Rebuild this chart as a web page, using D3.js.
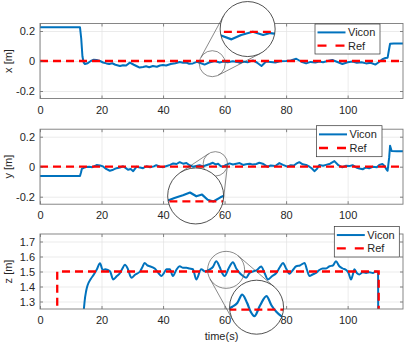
<!DOCTYPE html>
<html><head><meta charset="utf-8">
<script src="https://cdn.jsdelivr.net/npm/d3@7"></script>
<style>body{margin:0;background:#fff}text{font-family:"Liberation Sans",Arial,sans-serif;fill:#262626}</style>
</head><body><svg id="c" width="407" height="344"></svg>
<script>
// ---------- data ----------
const xTicks = [0, 20, 40, 60, 80, 100];
const xTickLabels = ["0", "20", "40", "60", "80", "100"];
const xyTicks = [-0.2, 0, 0.2];
const xyTickLabels = ["-0.2", "0", "0.2"];
const zTicks = [1.3, 1.4, 1.5, 1.6, 1.7];
const zTickLabels = ["1.3", "1.4", "1.5", "1.6", "1.7"];
const seriesNames = ["Vicon", "Ref"];

const xT = [0,13,13.4,13.8,14.2,14.6,15.5,16.5,17.5,18.4,19.5,20.5,21.6,22.5,23.5,24.5,26,27,28,29.2,30.5,31.5,32.4,33.5,34.5,35.5,36.7,38,39,40,41,42.5,44,45.4,46.5,47.5,48.5,49.7,51,51.9,53.5,55,56.8,58.4,59.5,61,62.7,64,65,66,67.5,69.2,70.5,72,73.5,75,76.5,78,80,81.5,83.3,85,86.5,88,89.5,90.8,92,93.5,95,96.5,98.3,100,101.6,103,104.5,106,107.5,109,110,111.3,112.3,113,113.4,113.8,115,118];
const xV = [0.225,0.225,0.15,0.03,-0.01,-0.02,-0.015,0,0.008,0.007,0,-0.01,-0.016,-0.02,-0.015,-0.025,-0.033,-0.028,-0.03,-0.011,-0.025,-0.035,-0.044,-0.04,-0.035,-0.042,-0.033,-0.038,-0.03,-0.027,-0.03,-0.02,-0.015,-0.007,-0.012,-0.01,-0.018,-0.016,-0.006,-0.012,-0.024,-0.01,0,-0.01,-0.004,-0.008,-0.002,-0.006,-0.012,-0.004,-0.008,0.004,-0.01,-0.033,-0.004,-0.006,-0.01,-0.002,0,0.004,0.015,-0.005,-0.016,-0.006,-0.01,-0.004,-0.008,0,0.007,-0.005,-0.02,-0.008,-0.004,-0.012,-0.008,-0.016,-0.012,-0.024,-0.01,0.012,0.02,0.022,0.07,0.115,0.117,0.117];
const xRefT = [0, 118];
const xRefV = [0, 0];

const yT = [0,13,13.3,13.6,14.2,15,16,17,18.4,19.5,20.5,21.5,22.7,23.8,24.9,26,27,27.8,28.6,29.5,30.3,31.4,32.5,33.5,34.6,35.8,37,37.8,39,40,41.2,42.3,43.3,44.4,45.4,46.5,47.6,48.6,49.7,50.8,51.9,53,54,55.2,56.2,57.1,57.9,58.7,59.5,60.5,61.6,62.7,63.8,64.9,66,67,68.2,69.2,70.3,71.3,72.4,73.9,75,76.5,77.8,79,80.4,81.5,82.5,83.3,84.3,85.4,86.5,87.6,88.4,89.2,90,90.8,92,93,94.3,95.7,97,98.3,99.5,100.5,101.6,102.8,103.8,104.9,106,107,108.2,109.5,110.3,111.3,112,112.6,113,113.5,113.8,114.3,116,118];
const yV = [-0.062,-0.062,-0.04,-0.015,-0.008,-0.002,0,-0.003,0.011,0.008,0.002,-0.015,-0.027,-0.02,-0.01,-0.005,0.003,-0.008,-0.02,-0.015,-0.03,0,-0.006,-0.01,0.003,-0.004,0.002,0.01,0,-0.003,0.005,0.012,0.022,0.018,0.03,0.02,0.025,0.01,0,0.005,0.01,0.002,0.01,0.018,0.026,0.015,0.02,0.005,0,0.012,0.022,0.015,0.02,0.024,0.012,0.016,0.02,0.014,0.018,0.026,0.02,0,0.008,0.005,0.024,0.012,0,0.01,0.008,0.02,0.03,0.016,0.012,0,-0.012,-0.03,-0.016,0.012,0.006,0.012,0.02,0.037,0.01,-0.004,0.006,0.004,0.01,-0.005,-0.012,-0.017,-0.005,-0.01,0,-0.004,0.012,0.018,0.005,-0.018,-0.027,0.06,0.14,0.105,0.103,0.103];
const yRefT = [0, 118];
const yRefV = [0, 0];

const zT = [0,13,14,14.5,15,15.5,16.5,17.5,18.5,19.5,20.4,21.2,22,22.8,23.8,25,26,26.8,27.6,28.5,29.7,31,32.5,33.3,34,35,35.7,37.3,38.5,39.5,40.3,41.1,42.2,43.2,44.3,45.4,46.5,47.6,48.6,49.7,50.8,52.4,53.7,55.1,56.2,57.3,58.4,59.2,60,61.3,62.7,63.8,64.9,66,67,68.1,69.2,70.5,71.9,73,74.1,75.5,76.8,78,79,80,81.1,82.2,83.3,84.5,86,86.8,87.6,88.6,89.7,90.8,91.9,93,94.1,95.2,96.2,97.3,98.4,99.5,100.3,101.1,101.7,102.2,103,103.8,104.9,106,107.1,108.2,109.2,109.9,110.1];
const zV = [0,0,1.15,1.3,1.37,1.41,1.45,1.48,1.515,1.555,1.51,1.515,1.51,1.5,1.447,1.47,1.49,1.52,1.545,1.52,1.458,1.48,1.5,1.53,1.557,1.54,1.535,1.52,1.49,1.47,1.49,1.515,1.515,1.47,1.51,1.535,1.525,1.525,1.52,1.515,1.447,1.515,1.5,1.513,1.53,1.568,1.53,1.49,1.47,1.52,1.562,1.52,1.49,1.47,1.458,1.49,1.5,1.51,1.534,1.49,1.447,1.47,1.49,1.53,1.557,1.52,1.485,1.51,1.535,1.54,1.557,1.51,1.47,1.48,1.49,1.51,1.52,1.52,1.535,1.54,1.568,1.535,1.52,1.51,1.49,1.447,1.48,1.515,1.49,1.48,1.495,1.49,1.495,1.49,1.5,1.497,0];
const zRefT = [0, 5.6, 5.6, 110.1, 110.1];
const zRefV = [0, 0, 1.5, 1.5, 0];

// ---------- layout ----------
const svg = d3.select("#c");
const L = 40, R = 403, H = 75;
const x = d3.scaleLinear().domain([0, 118]).range([L, R]);
const BLUE = "#0072BD", RED = "#FF0000";

const panels = [
  {label: "x [m]", t: xT, v: xV, rt: xRefT, rv: xRefV, dom: [-0.25, 0.25], ticks: xyTicks, labels: xyTickLabels, top: 23.5,
   curve: d3.curveLinear, leg: [315, 24, 65, 30],
   inset: {s: [56, -0.018], sr: 13, b: [67.5, 0.213], br: 27.5, c: [56, 0.0087], mag: 2.1}},
  {label: "y [m]", t: yT, v: yV, rt: yRefT, rv: yRefV, dom: [-0.25, 0.25], ticks: xyTicks, labels: xyTickLabels, top: 129.2,
   curve: d3.curveLinear, leg: [316.5, 125.7, 65.5, 31],
   inset: {s: [57, 0.019], sr: 12.2, b: [50.6, -0.195], br: 28, c: [57, 0.016], mag: 2.3}},
  {label: "z [m]", t: zT, v: zV, rt: zRefT, rv: zRefV, dom: [1.25, 1.75], ticks: zTicks, labels: zTickLabels, top: 234,
   curve: d3.curveMonotoneX, leg: [334.3, 226.5, 65, 30.5],
   inset: {s: [60.5, 1.511], sr: 18.5, b: [70.4, 1.262], br: 27, c: [60.5, 1.511], mag: 1.46}}
];

panels.forEach((p, i) => {
  const top = p.top, bot = top + H;
  const y = d3.scaleLinear().domain(p.dom).range([bot, top]);
  const g = svg.append("g");

  // grid
  g.append("g").attr("transform", `translate(0,${bot})`)
    .call(d3.axisBottom(x).tickValues(xTicks).tickSize(-H).tickFormat(""))
    .call(a => { a.select(".domain").remove(); a.selectAll("line").attr("stroke", "#e3e3e3").attr("stroke-width", 0.7); });
  g.append("g").attr("transform", `translate(${L},0)`)
    .call(d3.axisLeft(y).tickValues(p.ticks).tickSize(-(R - L)).tickFormat(""))
    .call(a => { a.select(".domain").remove(); a.selectAll("line").attr("stroke", "#e3e3e3").attr("stroke-width", 0.7); });

  // clip
  const cid = "clip" + i;
  svg.append("clipPath").attr("id", cid).append("rect").attr("x", L).attr("y", top).attr("width", R - L).attr("height", H);
  const line = d3.line().x(d => x(d[0])).y(d => y(d[1]));
  const lineB = d3.line().x(d => x(d[0])).y(d => y(d[1])).curve(p.curve);
  const pg = g.append("g").attr("clip-path", `url(#${cid})`);
  pg.append("path").attr("d", lineB(d3.zip(p.t, p.v))).attr("fill", "none").attr("stroke", BLUE).attr("stroke-width", 2).attr("stroke-linejoin", "round");
  pg.append("path").attr("d", line(d3.zip(p.rt, p.rv))).attr("fill", "none").attr("stroke", RED).attr("stroke-width", 2.3).attr("stroke-dasharray", "8,5");

  // axes with ticks
  const tickStyle = a => { a.select(".domain").remove(); a.selectAll("line").attr("stroke", "#555").attr("stroke-width", 0.7);
    a.selectAll("text").attr("font-size", 11).attr("fill", "#262626").style("font-family", '"Liberation Sans",Arial,sans-serif'); };
  g.append("g").attr("transform", `translate(0,${bot})`)
    .call(d3.axisBottom(x).tickValues(xTicks).tickSizeInner(-3).tickSizeOuter(0).tickPadding(7.5).tickFormat((d, k) => xTickLabels[k]))
    .call(tickStyle);
  g.append("g").attr("transform", `translate(0,${top})`)
    .call(d3.axisTop(x).tickValues(xTicks).tickSizeInner(-3).tickSizeOuter(0).tickFormat(""))
    .call(tickStyle);
  g.append("g").attr("transform", `translate(${L},0)`)
    .call(d3.axisLeft(y).tickValues(p.ticks).tickSizeInner(-3).tickSizeOuter(0).tickPadding(5).tickFormat((d, k) => p.labels[k]))
    .call(tickStyle);
  g.append("g").attr("transform", `translate(${R},0)`)
    .call(d3.axisRight(y).tickValues(p.ticks).tickSizeInner(-3).tickSizeOuter(0).tickFormat(""))
    .call(tickStyle);
  g.append("rect").attr("x", L).attr("y", top).attr("width", R - L).attr("height", H)
    .attr("fill", "none").attr("stroke", "#7a7a7a").attr("stroke-width", 0.9);

  // y label
  g.append("text").attr("transform", `translate(11.5,${(top + bot) / 2}) rotate(-90)`)
    .attr("text-anchor", "middle").attr("font-size", 11).text(p.label);

  // inset magnifier
  const s = p.inset;
  const c1 = [x(s.s[0]), y(s.s[1])], c2 = [x(s.b[0]), y(s.b[1])];
  const dx = c2[0] - c1[0], dy = c2[1] - c1[1], D = Math.hypot(dx, dy);
  const base = Math.atan2(dy, dx), alpha = Math.acos((s.br - s.sr) / D);
  [base + alpha, base - alpha].forEach(an => {
    const n = [Math.cos(an), Math.sin(an)];
    g.append("line").attr("x1", c1[0] - s.sr * n[0]).attr("y1", c1[1] - s.sr * n[1])
      .attr("x2", c2[0] - s.br * n[0]).attr("y2", c2[1] - s.br * n[1])
      .attr("stroke", "#3a3a3a").attr("stroke-width", 0.6);
  });
  g.append("circle").attr("cx", c1[0]).attr("cy", c1[1]).attr("r", s.sr)
    .attr("fill", "none").attr("stroke", "#5a5a5a").attr("stroke-width", 0.7);
  const iid = "iclip" + i;
  svg.append("clipPath").attr("id", iid).append("circle").attr("cx", c2[0]).attr("cy", c2[1]).attr("r", s.br);
  g.append("circle").attr("cx", c2[0]).attr("cy", c2[1]).attr("r", s.br).attr("fill", "#fff");
  const xi = d3.scaleLinear().domain(x.domain()).range(x.range().map(r => c2[0] + (r - x(s.c[0])) * s.mag));
  const yi = d3.scaleLinear().domain(y.domain()).range(y.range().map(r => c2[1] + (r - y(s.c[1])) * s.mag));
  const li = d3.line().x(d => xi(d[0])).y(d => yi(d[1]));
  const liB = d3.line().x(d => xi(d[0])).y(d => yi(d[1])).curve(p.curve);
  const ig = g.append("g").attr("clip-path", `url(#${iid})`);
  ig.append("path").attr("d", liB(d3.zip(p.t, p.v))).attr("fill", "none").attr("stroke", BLUE).attr("stroke-width", 2.2).attr("stroke-linejoin", "round");
  ig.append("path").attr("d", li(d3.zip(p.rt, p.rv))).attr("fill", "none").attr("stroke", RED).attr("stroke-width", 2.3).attr("stroke-dasharray", "8,5");
  g.append("circle").attr("cx", c2[0]).attr("cy", c2[1]).attr("r", s.br)
    .attr("fill", "none").attr("stroke", "#262626").attr("stroke-width", 0.8);

  // legend
  const [lx, ly, lw, lh] = p.leg;
  const lg = g.append("g");
  lg.append("rect").attr("x", lx).attr("y", ly).attr("width", lw).attr("height", lh)
    .attr("fill", "#fff").attr("stroke", "#333").attr("stroke-width", 0.7);
  const r1 = ly + lh * 0.28, r2 = ly + lh * 0.72;
  lg.append("line").attr("x1", lx + 2.5).attr("x2", lx + 30.5).attr("y1", r1).attr("y2", r1).attr("stroke", BLUE).attr("stroke-width", 2);
  lg.append("line").attr("x1", lx + 2.5).attr("x2", lx + 30.5).attr("y1", r2).attr("y2", r2).attr("stroke", RED).attr("stroke-width", 2.3).attr("stroke-dasharray", "9,9");
  lg.append("text").attr("x", lx + 33).attr("y", r1 + 4).attr("font-size", 11).text(seriesNames[0]);
  lg.append("text").attr("x", lx + 33).attr("y", r2 + 4).attr("font-size", 11).text(seriesNames[1]);
});

svg.append("text").attr("x", (L + R) / 2).attr("y", 339.5).attr("text-anchor", "middle").attr("font-size", 11).text("time(s)");
</script>
</body></html>
